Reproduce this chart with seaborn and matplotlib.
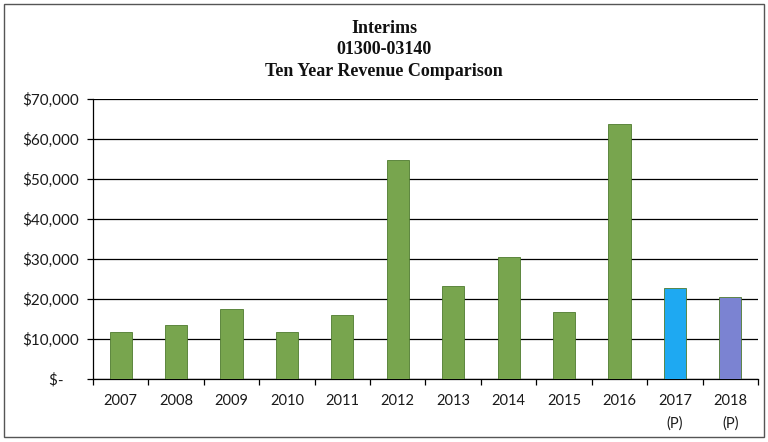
import matplotlib
matplotlib.use("Agg")
import matplotlib.pyplot as plt
from matplotlib.ticker import FuncFormatter, FixedLocator
from matplotlib.patches import Rectangle
import seaborn as sns

# Annual revenue for the Interims account (2017 and 2018 projected)
years = ["2007", "2008", "2009", "2010", "2011", "2012", "2013", "2014",
         "2015", "2016", "2017\n(P)", "2018\n(P)"]
revenue = [11800, 13500, 17500, 11600, 15900, 54800, 23300, 30400,
           16700, 63700, 22700, 20400]
bar_colors = ["#78A54E"] * 10 + ["#1EA9F2", "#7B83D2"]
yticks = [0, 10000, 20000, 30000, 40000, 50000, 60000, 70000]

sns.set_theme(style="white")
plt.rcParams["font.family"] = ["Lato", "DejaVu Sans"]

fig = plt.figure(figsize=(7.68, 4.42), dpi=100)
ax = fig.add_axes([0.121, 0.143, 0.866, 0.633])

sns.barplot(x=years, y=revenue, hue=years, palette=bar_colors, legend=False,
            width=0.4, saturation=1, ax=ax, edgecolor="#4E7A2E", linewidth=0.6,
            zorder=3)

ax.set_ylim(0, 70000)
ax.set_xlim(-0.5, len(years) - 0.5)
ax.yaxis.set_major_locator(FixedLocator(yticks))
ax.yaxis.set_major_formatter(FuncFormatter(
    lambda v, _: "$-    " if v == 0 else f"${v:,.0f}"))
ax.grid(axis="y", color="black", linewidth=0.9, zorder=0)
ax.set_axisbelow(True)

for side in ("top", "right"):
    ax.spines[side].set_visible(False)
for side in ("left", "bottom"):
    ax.spines[side].set_color("black")
    ax.spines[side].set_linewidth(0.9)

# tick marks sit between categories on the x axis
ax.set_xticks([i - 0.5 for i in range(len(years) + 1)], minor=True)
ax.tick_params(axis="x", which="minor", length=4, width=0.9, color="black",
               direction="out", bottom=True)
ax.tick_params(axis="x", which="major", length=0, labelsize=10.5, pad=11,
               labelcolor="#1a1a1a")
ax.tick_params(axis="y", which="major", length=4, width=0.9, color="black",
               direction="out", left=True, labelsize=11, pad=6,
               labelcolor="#1a1a1a")
for lbl in ax.get_xticklabels():
    lbl.set_linespacing(1.75)
ax.set_xlabel("")
ax.set_ylabel("")

fig.text(0.5, 0.955, "Interims\n01300-03140\nTen Year Revenue Comparison",
         ha="center", va="top", fontsize=13, fontweight="bold",
         family=["Liberation Serif"], linespacing=1.35, color="#111111")

fig.patches.append(Rectangle((0.005, 0.012), 0.99, 0.978,
                             transform=fig.transFigure, fill=False,
                             edgecolor="#555555", linewidth=1.0))

fig.savefig("out.png", dpi=100)
